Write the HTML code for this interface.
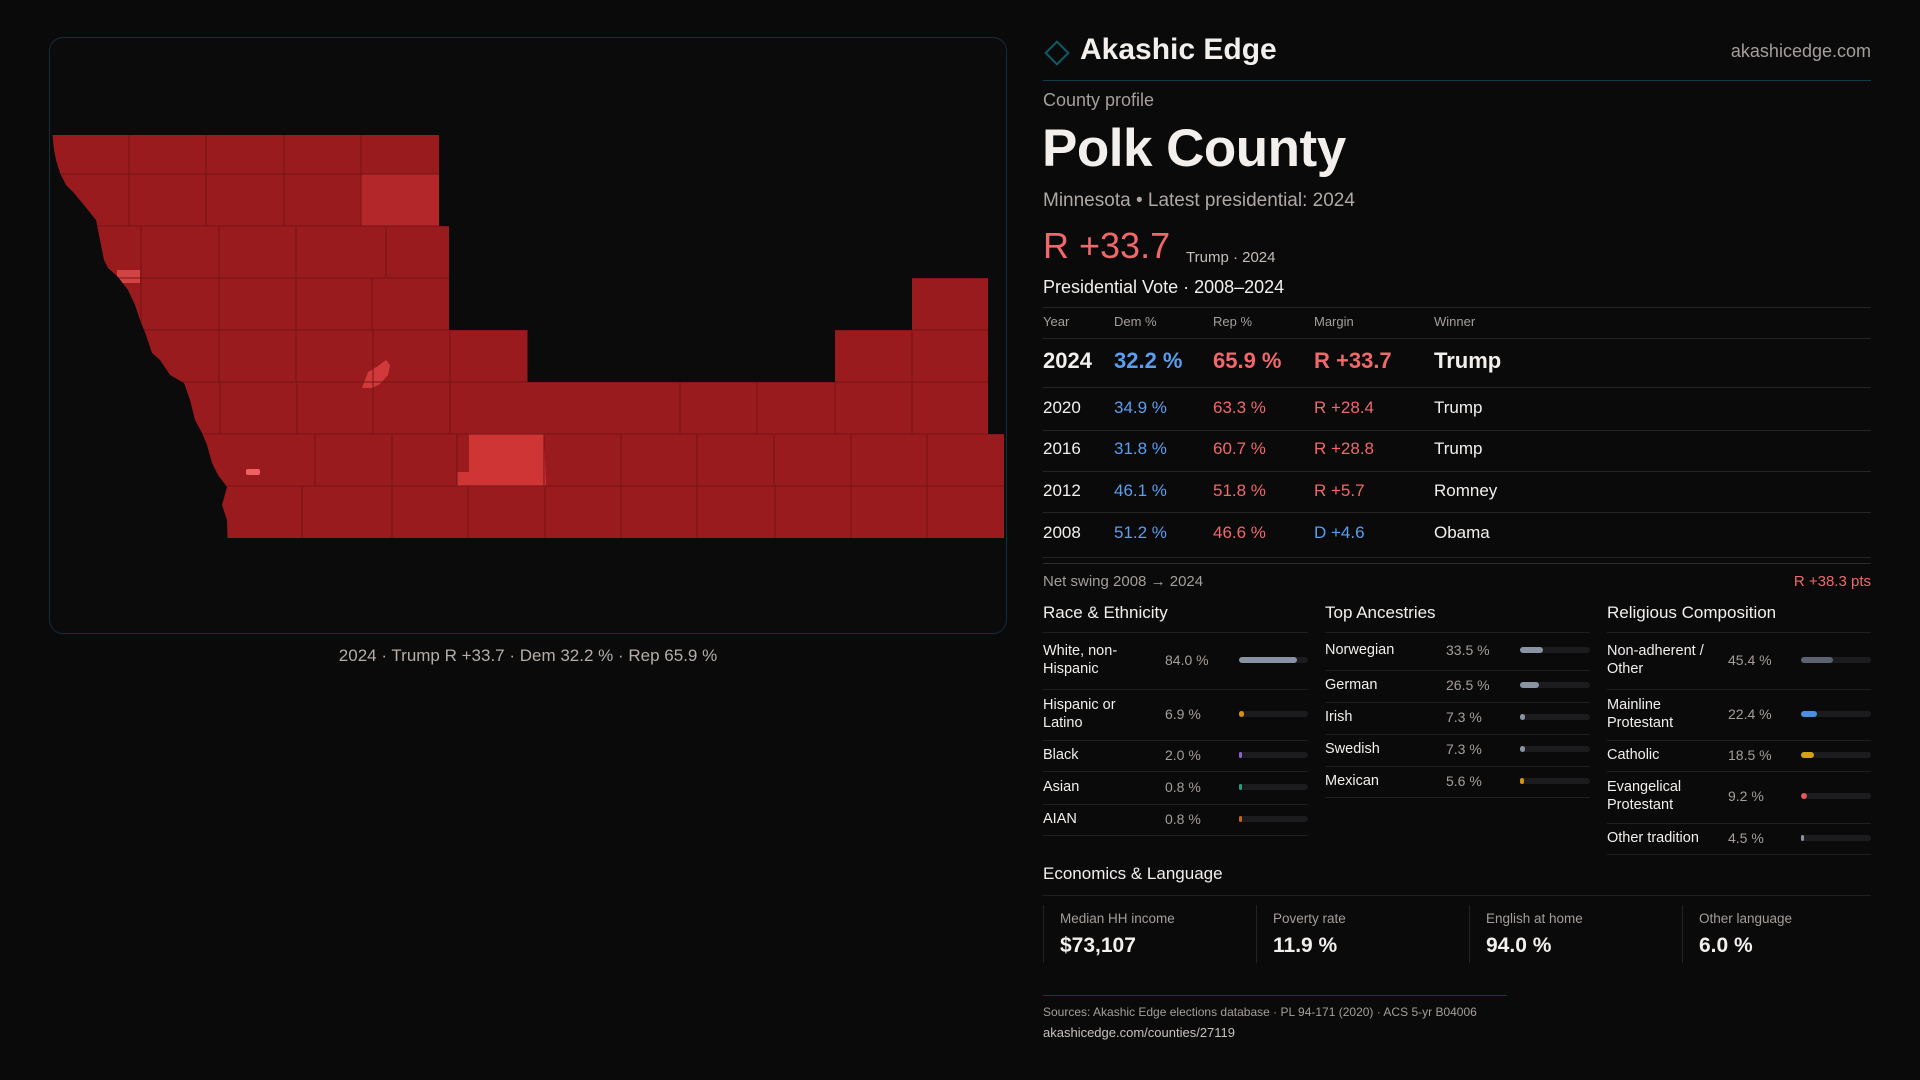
<!DOCTYPE html>
<html><head><meta charset="utf-8">
<style>
*{margin:0;padding:0;box-sizing:border-box}
body{width:1920px;height:1080px;background:#0a0a0b;font-family:"Liberation Sans",sans-serif;color:#f2efec;position:relative;overflow:hidden}
.a{position:absolute;white-space:nowrap}
.g{color:#a59e9a}
.hl{position:absolute;height:1px;background:#252525}
.blue{color:#5a9ef0}.red{color:#f0686a}
.sec{font-size:17px;font-weight:500;line-height:20px}
.lab{font-size:14.5px;line-height:18px;font-weight:500}
.val{font-size:14px;color:#a59e9a;line-height:18px}
.trk{position:absolute;height:6px;border-radius:3px;background:#1c1c1f}
.fill{position:absolute;left:0;top:0;height:6px;border-radius:3px}
.box{position:absolute;top:905px;height:58px;border-left:1px solid #222}
</style></head><body>
<div class="a" style="left:49px;top:37px;width:958px;height:597px;border:1px solid #123038;border-radius:14px;background:#0b0b0c"></div>
<svg class="a" style="left:0;top:0" width="1920" height="1080">
<defs><clipPath id="cp"><polygon id="outline" points="52.5,135 439,135 439,226 449,226 449,330 527.5,330 527.5,382 835,382 835,330 912,330 912,278 988,278 988,434 1004,434 1004,538 227.5,538 227,520 222,505 227,487 218,475 212,463 207,445 202,433 195,420 190,400 184,383 170,375 160,360 152,353 146,335 140,320 135,305 128,290 118,277 108,268 104,260 100,240 96,220 88,210 74,193 66,185 60,173 56,160 54,150 52.5,135"/></clipPath></defs>
<g clip-path="url(#cp)">
<rect x="40" y="130" width="980" height="420" fill="#9a1b1e"/>
<rect x="361" y="174" width="78" height="52" fill="#b3272a"/>
<polygon points="469,434 544,434 546,486 457,486 457,472 469,472" fill="#d03536"/>
<rect x="117" y="270" width="23" height="13" fill="#d24444"/>
<rect x="246" y="469" width="14" height="6" rx="2" fill="#f06262"/>
<polygon points="362,388 368,372 378,366 386,360 390,365 388,375 380,384 372,388" fill="#d03a3a"/>
<g stroke="#761316" stroke-width="1" fill="none">
<path d="M40 174H1010M40 226H1010M40 278H1010M40 330H1010M40 382H1010M40 434H1010M40 486H1010"/>
<path d="M129 135V226M206 135V226M284 135V226M361 135V226"/>
<path d="M141 226V330M219 226V330M296 226V330M386 226V278M372 278V330"/>
<path d="M219 330V382M296 330V382M373 330V382M450 330V382M912 330V382"/>
<path d="M220 382V434M297 382V434M373 382V434M450 382V434M680 382V434M757 382V434M835 382V434M912 382V434"/>
<path d="M315 434V486M392 434V486M457 434V486M544 434V486M621 434V486M697 434V486M774 434V486M851 434V486M927 434V486"/>
<path d="M302 486V538M392 486V538M468 486V538M545 486V538M621 486V538M697 486V538M775 486V538M851 486V538M927 486V538"/>
</g></g></svg>
<div class="a" style="left:49px;width:958px;top:646px;text-align:center;font-size:17px;font-weight:500;color:#b5ada8">2024 · Trump R +33.7 · Dem 32.2 % · Rep 65.9 %</div>

<svg class="a" style="left:1042px;top:38px" width="30" height="30"><rect x="7" y="7" width="16" height="16" transform="rotate(45 15 15)" fill="none" stroke="#0f5a64" stroke-width="2"/></svg>
<div class="a" style="left:1080px;top:32px;font-size:30px;font-weight:600;line-height:36px">Akashic Edge</div>
<div class="a g" style="right:49px;top:40px;font-size:18px;font-weight:500;line-height:22px">akashicedge.com</div>
<div class="hl" style="left:1043px;width:828px;top:80px;background:#0f3d47"></div>
<div class="a g" style="left:1043px;top:90px;font-size:18px;font-weight:500">County profile</div>
<div class="a" style="left:1042px;top:118px;font-size:53px;font-weight:600;line-height:62px;letter-spacing:-0.5px">Polk County</div>
<div class="a" style="left:1043px;top:190px;font-size:19px;font-weight:500;color:#b0a8a4">Minnesota • Latest presidential: 2024</div>
<div class="a red" style="left:1043px;top:224px;font-size:36px;font-weight:500;line-height:44px">R +33.7</div>
<div class="a" style="left:1186px;top:249px;font-size:15px;color:#c5bdb8">Trump · 2024</div>
<div class="a" style="left:1043px;top:277px;font-size:18px;font-weight:500">Presidential Vote · 2008–2024</div>
<div class="hl" style="left:1043px;width:828px;top:307px"></div>
<div id="vt"></div>
<div class="hl" style="left:1043px;width:828px;top:563px;background:#2c2c2c"></div>
<div class="a g" style="left:1043px;top:573px;font-size:15px">Net swing 2008 → 2024</div>
<div class="a red" style="right:49px;top:573px;font-size:15px;font-weight:500">R +38.3 pts</div>

<div class="a sec" style="left:1043px;top:603px">Race &amp; Ethnicity</div>
<div class="a sec" style="left:1325px;top:603px">Top Ancestries</div>
<div class="a sec" style="left:1607px;top:603px">Religious Composition</div>
<div id="demo"></div>

<div class="a sec" style="left:1043px;top:864px">Economics &amp; Language</div>
<div class="hl" style="left:1043px;width:828px;top:895px;background:#1f1f1f"></div>
<div class="box" style="left:1043px;width:213px"><div class="a g" style="left:16px;top:6px;font-size:13.5px">Median HH income</div><div class="a" style="left:16px;top:29px;font-size:21px;font-weight:600">$73,107</div></div>
<div class="box" style="left:1256px;width:213px"><div class="a g" style="left:16px;top:6px;font-size:13.5px">Poverty rate</div><div class="a" style="left:16px;top:29px;font-size:21px;font-weight:600">11.9 %</div></div>
<div class="box" style="left:1469px;width:213px"><div class="a g" style="left:16px;top:6px;font-size:13.5px">English at home</div><div class="a" style="left:16px;top:29px;font-size:21px;font-weight:600">94.0 %</div></div>
<div class="box" style="left:1682px;width:189px"><div class="a g" style="left:16px;top:6px;font-size:13.5px">Other language</div><div class="a" style="left:16px;top:29px;font-size:21px;font-weight:600">6.0 %</div></div>
<div class="hl" style="left:1043px;width:464px;top:995px;background:#0f3d47"></div>
<div class="a g" style="left:1043px;top:1005px;font-size:12px">Sources: Akashic Edge elections database · PL 94-171 (2020) · ACS 5-yr B04006</div>
<div class="a" style="left:1043px;top:1025px;font-size:13px;color:#c8c0bc;font-weight:500">akashicedge.com/counties/27119</div>

<script>
const years=['2024','2020','2016','2012','2008'];
const demPct=[32.2,34.9,31.8,46.1,51.2];
const repPct=[65.9,63.3,60.7,51.8,46.6];
const margins=[33.7,28.4,28.8,5.7,-4.6];
const winners=['Trump','Trump','Trump','Romney','Obama'];
const raceLabels=['White, non-<br>Hispanic','Hispanic or<br>Latino','Black','Asian','AIAN'];
const raceValues=[84.0,6.9,2.0,0.8,0.8];
const raceColors=['#8a93a3','#d4900f','#8a63d2','#1fa37a','#c8641e'];
const ancLabels=['Norwegian','German','Irish','Swedish','Mexican'];
const ancValues=[33.5,26.5,7.3,7.3,5.6];
const ancColors=['#8a93a3','#8a93a3','#8a93a3','#8a93a3','#d4900f'];
const relLabels=['Non-adherent /<br>Other','Mainline<br>Protestant','Catholic','Evangelical<br>Protestant','Other tradition'];
const relValues=[45.4,22.4,18.5,9.2,4.5];
const relColors=['#5d6270','#4a8fe0','#d4a017','#e05a5a','#8a93a3'];

const vt=document.getElementById('vt');
function mk(parent,cls,style,html){const d=document.createElement('div');d.className=cls;d.style.cssText=style;d.innerHTML=html;parent.appendChild(d);return d;}
const hdr=['Year','Dem %','Rep %','Margin','Winner'];
const colX=[1043,1114,1213,1314,1434];
hdr.forEach((h,i)=>{const e=mk(vt,'a g','left:'+colX[i]+'px;top:314px;font-size:13px',h);

});
mk(vt,'hl','left:1043px;width:828px;top:338px','');
const rowC=[361,408,449,491,533];
const lineY=[387,430,471,512,557];
years.forEach((y,i)=>{
 const fs=i===0?22:17; const top=rowC[i]-fs*0.6;
 const m=margins[i];
 const mt=(m>=0?'R +':'D +')+Math.abs(m).toFixed(1);
 const cells=[[y,''],[demPct[i].toFixed(1)+' %','blue'],[repPct[i].toFixed(1)+' %','red'],[mt,m>=0?'red':'blue'],[winners[i],'']];
 cells.forEach((c,j)=>{const e=mk(vt,'a '+c[1],'left:'+colX[j]+'px;top:'+top+'px;font-size:'+fs+'px;font-weight:'+(i===0?600:500),c[0]);
 
 });
 mk(vt,'hl','left:1043px;width:828px;top:'+lineY[i]+'px','');
});

const demo=document.getElementById('demo');
function block(name,labels,values,colors,x0,valX,trkX,trkW,lines){
 for(let i=0;i<labels.length;i++){
  const c=(lines[i]+lines[i+1])/2;
  const two=labels[i].indexOf('<br>')>=0;
  const l=mk(demo,'a lab','left:'+x0+'px;top:'+(c-(two?18:9)-1)+'px',labels[i]);
  
  
  const v=mk(demo,'a val','left:'+valX+'px;top:'+(c-10)+'px',values[i].toFixed(1)+' %');
  
  
  const t=mk(demo,'trk','left:'+trkX+'px;top:'+(c-4)+'px;width:'+trkW+'px','');
  
  
  const f=mk(t,'fill','width:'+Math.max(3,values[i]/100*trkW)+'px;background:'+colors[i],'');
  
  
  mk(demo,'hl','left:'+x0+'px;width:'+(trkX+trkW-x0)+'px;top:'+lines[i]+'px;background:#1f1f1f','');
 }
 mk(demo,'hl','left:'+x0+'px;width:'+(trkX+trkW-x0)+'px;top:'+lines[labels.length]+'px;background:#1f1f1f','');
}
block('race',raceLabels,raceValues,raceColors,1043,1165,1239,69,[632,689,740,771,804,835]);
block('ancestry',ancLabels,ancValues,ancColors,1325,1446,1520,70,[632,670,702,734,766,797]);
block('religion',relLabels,relValues,relColors,1607,1728,1801,70,[632,689,740,771,823,854]);
</script>
</body></html>
